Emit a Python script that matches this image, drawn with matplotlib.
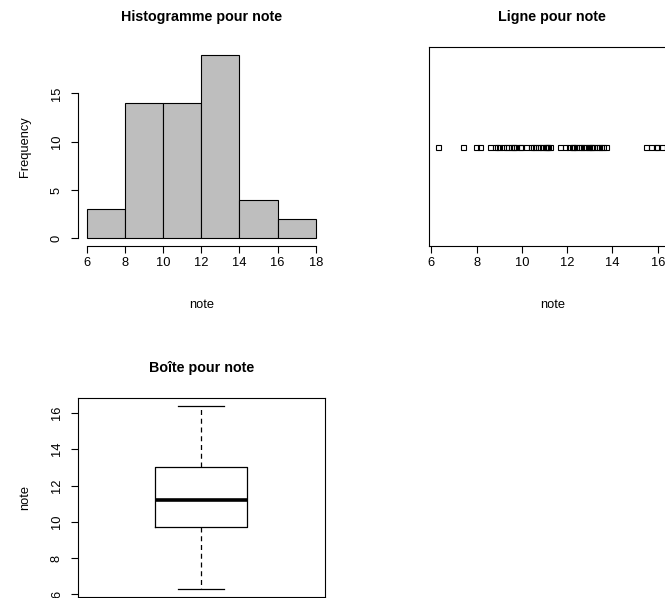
import numpy as np
import matplotlib
matplotlib.use("Agg")
import matplotlib.pyplot as plt

plt.rcParams['font.family'] = ['Liberation Sans', 'DejaVu Sans']

# notes (56 valeurs)
note = [6.28, 7.4, 7.97,
        8.16, 8.6, 8.8, 8.9, 9.0, 9.15, 9.3, 9.4, 9.5, 9.6, 9.65, 9.75, 9.9, 9.98,
        10.2, 10.4, 10.5, 10.6, 10.7, 10.8, 10.9, 11.0, 11.05, 11.1, 11.15, 11.25, 11.7, 11.9,
        12.1, 12.2, 12.25, 12.3, 12.4, 12.5, 12.6, 12.7, 12.8, 12.9, 12.95, 13.05, 13.1,
        13.2, 13.3, 13.4, 13.5, 13.6, 13.7,
        15.5, 15.7, 15.9, 15.98,
        16.2, 16.4]
breaks = [6, 8, 10, 12, 14, 16, 18]
hist_yticks = [0, 5, 10, 15]
xticks = [6, 8, 10, 12, 14, 16, 18]
box_yticks = [6, 8, 10, 12, 14, 16]

note = np.array(note)
W, H = 665, 598
TICK_FS = 9.3
TITLE_FS = 10.3


def pos(left, top, right, bottom):
    return [left / W, 1 - bottom / H, (right - left) / W, (bottom - top) / H]


def r_style(ax):
    ax.tick_params(direction='out', length=5, width=0.8, labelsize=TICK_FS)
    ax.tick_params(axis='x', pad=3)
    ax.tick_params(axis='y', pad=5.5)
    for lab in ax.get_yticklabels():
        lab.set_rotation(90)
        lab.set_va('center')


def fivenum(x):
    x = np.sort(x)
    n = len(x)
    n4 = np.floor((n + 3) / 2) / 2
    d = np.array([1, n4, (n + 1) / 2, n + 1 - n4, n]) - 1
    return 0.5 * (x[np.floor(d).astype(int)] + x[np.ceil(d).astype(int)])


fig = plt.figure(figsize=(W / 100, H / 100), dpi=100)

# Histogramme
ax1 = fig.add_axes(pos(77.5, 47.3, 325, 245.7))
counts, _, _ = ax1.hist(note, bins=breaks, color='#BEBEBE', edgecolor='black', linewidth=0.8)
ax1.set_xticks(xticks)
ax1.set_yticks(hist_yticks)
ax1.set_xlim(6 - 0.04 * 12, 18 + 0.04 * 12)
top = counts.max()
ax1.set_ylim(-0.04 * top, top * 1.04)
ax1.spines['top'].set_visible(False)
ax1.spines['right'].set_visible(False)
ax1.spines['left'].set_bounds(0, 15)
ax1.spines['bottom'].set_bounds(6, 18)
r_style(ax1)
ax1.set_xlabel('note', fontsize=TICK_FS, labelpad=22)
ax1.set_ylabel('Frequency', fontsize=TICK_FS, labelpad=14)
ax1.set_title('Histogramme pour note', fontsize=TITLE_FS, fontweight='bold', pad=19)

# Ligne (stripchart)
lo, hi = note.min(), note.max()
span = hi - lo
ax2 = fig.add_axes(pos(351 + 77.5, 47.3, 351 + 325, 245.7))
ax2.plot(note, np.ones_like(note), 's', mfc='none', mec='black', ms=3.6, mew=0.8)
ax2.set_yticks([])
ax2.set_xticks(xticks)
ax2.set_xlim(lo - 0.04 * span, hi + 0.04 * span)
ax2.set_ylim(0, 2)
r_style(ax2)
ax2.set_xlabel('note', fontsize=TICK_FS, labelpad=22)
ax2.set_title('Ligne pour note', fontsize=TITLE_FS, fontweight='bold', pad=19)

# Boîte
f = fivenum(note)
ax3 = fig.add_axes(pos(77.5, 351 + 47.3, 325, 351 + 245.7))
stats = [dict(med=f[2], q1=f[1], q3=f[3], whislo=f[0], whishi=f[4], fliers=[])]
ax3.bxp(stats, positions=[1], widths=0.37, showfliers=False,
        boxprops=dict(color='black', linewidth=0.9),
        medianprops=dict(color='black', linewidth=2.6),
        whiskerprops=dict(color='black', linewidth=0.9, linestyle=(0, (4, 3))),
        capprops=dict(color='black', linewidth=0.9))
ax3.set_xticks([])
ax3.set_yticks(box_yticks)
ax3.set_xlim(0.5, 1.5)
ax3.set_ylim(lo - 0.04 * span, hi + 0.04 * span)
r_style(ax3)
ax3.set_ylabel('note', fontsize=TICK_FS, labelpad=14)
ax3.set_title('Boîte pour note', fontsize=TITLE_FS, fontweight='bold', pad=19)

for ax in (ax1, ax2, ax3):
    for s in ax.spines.values():
        s.set_linewidth(0.8)

fig.savefig('out.png', dpi=100)
